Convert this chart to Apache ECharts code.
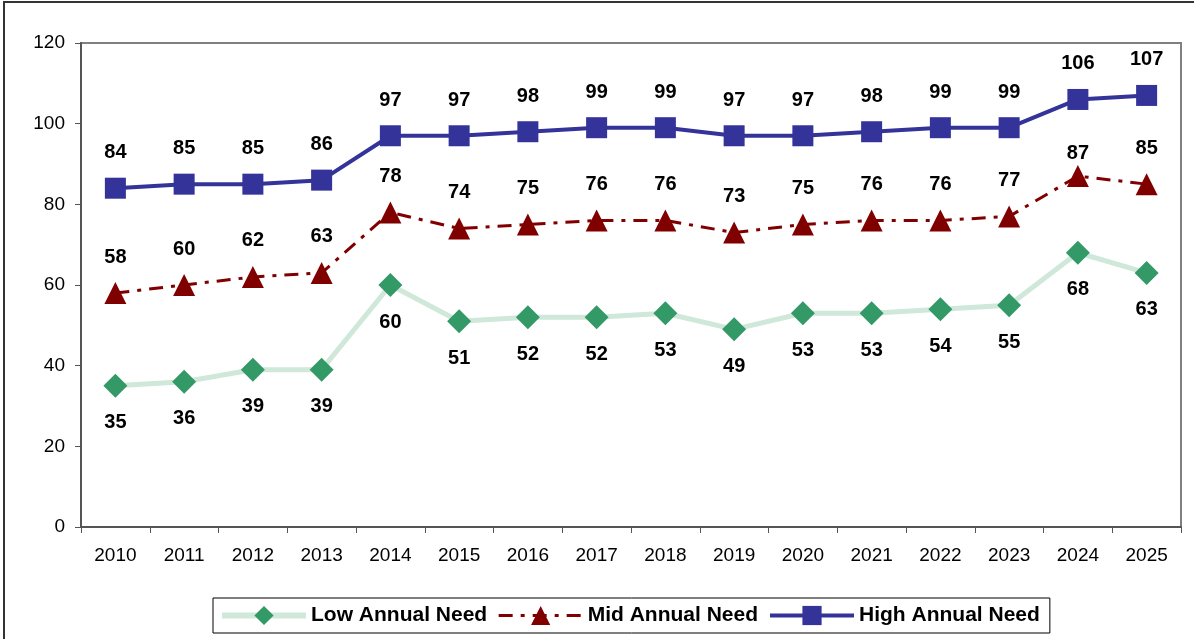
<!DOCTYPE html>
<html>
<head>
<meta charset="utf-8">
<script src="https://cdn.jsdelivr.net/npm/echarts@6/dist/echarts.min.js"></script>
<style>
  html, body { margin: 0; padding: 0; background: #fff; }
  #chart { width: 1194px; height: 639px; }
</style>
</head>
<body>
<div id="chart"></div>
<script>
// Annual need projections, 2010–2025
const years = ['2010','2011','2012','2013','2014','2015','2016','2017','2018','2019','2020','2021','2022','2023','2024','2025'];
const lowNeed  = [35, 36, 39, 39, 60, 51, 52, 52, 53, 49, 53, 53, 54, 55, 68, 63];
const midNeed  = [58, 60, 62, 63, 78, 74, 75, 76, 76, 73, 75, 76, 76, 77, 87, 85];
const highNeed = [84, 85, 85, 86, 97, 97, 98, 99, 99, 97, 97, 98, 99, 99, 106, 107];
const yTicks = [0, 20, 40, 60, 80, 100, 120];

const FONT = '"Liberation Sans", Arial, sans-serif';
const LOW_COLOR = '#339966', LOW_LINE = '#cfe8da';
const MID_COLOR = '#800000';
const HIGH_COLOR = '#333399';
const MID_DASH = [14, 8, 4, 8];

const labelStyle = (pos) => ({
  show: true,
  position: pos,
  distance: 15,
  fontFamily: FONT,
  fontSize: 20,
  fontWeight: 'bold',
  color: '#000'
});

// The 2024 mid-need label sits closer to its marker so it clears the high line
const midData = midNeed.map((v, i) =>
  years[i] === '2024' ? { value: v, label: { distance: 2 } } : v
);

const chart = echarts.init(document.getElementById('chart'));
chart.setOption({
  animation: false,
  textStyle: { fontFamily: FONT },
  graphic: [{
    type: 'rect',
    shape: { x: 4, y: 2, width: 1300, height: 700 },
    style: { fill: 'none', stroke: '#333', lineWidth: 2 },
    silent: true
  }],
  grid: {
    left: 81, right: 13, top: 43, bottom: 112,
    show: true, borderColor: '#808080', borderWidth: 2, backgroundColor: 'transparent'
  },
  legend: {
    left: 213,
    bottom: 6,
    padding: [7, 10, 7, 6],
    itemGap: 10,
    itemWidth: 84,
    itemHeight: 24,
    borderColor: '#000',
    borderWidth: 1,
    backgroundColor: '#fff',
    textStyle: { fontFamily: FONT, fontSize: 21, fontWeight: 'bold', color: '#000' },
    data: [
      { name: 'Low Annual Need', lineStyle: { width: 6, color: LOW_LINE }, itemStyle: { color: LOW_COLOR } },
      { name: 'Mid Annual Need', lineStyle: { width: 3, color: MID_COLOR, type: MID_DASH }, itemStyle: { color: MID_COLOR } },
      { name: 'High Annual Need', lineStyle: { width: 4, color: HIGH_COLOR }, itemStyle: { color: HIGH_COLOR } }
    ]
  },
  xAxis: {
    type: 'category',
    data: years,
    boundaryGap: true,
    axisLine: { lineStyle: { color: '#555', width: 2 } },
    axisTick: { show: true, inside: false, length: 6, lineStyle: { color: '#555', width: 1 } },
    axisLabel: { fontFamily: FONT, fontSize: 19, color: '#000', margin: 19 },
    splitLine: { show: false }
  },
  yAxis: {
    type: 'value',
    min: yTicks[0],
    max: yTicks[yTicks.length - 1],
    interval: 20,
    axisLine: { show: true, lineStyle: { color: '#555', width: 2 } },
    axisTick: { show: true, length: 6, lineStyle: { color: '#555', width: 1 } },
    axisLabel: { fontFamily: FONT, fontSize: 19, color: '#000', margin: 16 },
    splitLine: { show: false }
  },
  series: [
    {
      name: 'Low Annual Need',
      type: 'line',
      data: lowNeed,
      symbol: 'diamond',
      symbolSize: 24,
      itemStyle: { color: LOW_COLOR },
      lineStyle: { color: LOW_LINE, width: 5 },
      label: labelStyle('bottom'),
      labelLayout: { hideOverlap: false },
      z: 2
    },
    {
      name: 'Mid Annual Need',
      type: 'line',
      data: midData,
      symbol: 'triangle',
      symbolSize: 22,
      itemStyle: { color: MID_COLOR },
      lineStyle: { color: MID_COLOR, width: 3, type: MID_DASH },
      label: labelStyle('top'),
      labelLayout: { hideOverlap: false },
      z: 3
    },
    {
      name: 'High Annual Need',
      type: 'line',
      data: highNeed,
      symbol: 'rect',
      symbolSize: 21,
      itemStyle: { color: HIGH_COLOR },
      lineStyle: { color: HIGH_COLOR, width: 4 },
      label: labelStyle('top'),
      labelLayout: { hideOverlap: false },
      z: 4
    }
  ]
});
</script>
</body>
</html>
